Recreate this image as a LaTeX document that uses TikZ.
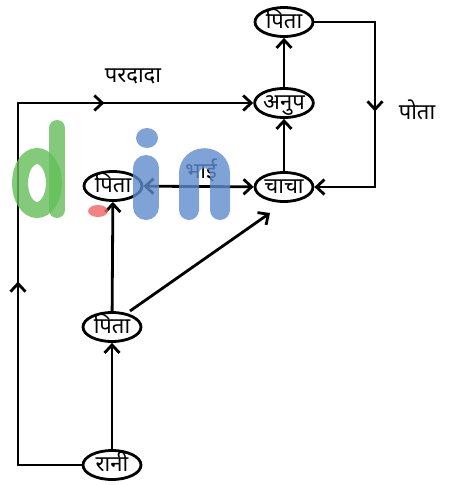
\documentclass[tikz,border=0pt]{standalone}
\usepackage{fontspec}
\newfontfamily\dev[Script=Devanagari]{Noto Sans}
\usetikzlibrary{arrows.meta,decorations.markings,shapes.geometric}
\definecolor{wmgreen}{RGB}{100,190,90}
\definecolor{wmred}{RGB}{240,100,100}
\definecolor{wmblue}{RGB}{95,140,205}
\begin{document}
\begin{tikzpicture}[x=1pt,y=-1pt,
  person/.style={ellipse,draw,line width=2.8pt,inner sep=0pt,text height=13pt,text depth=0pt,minimum width=58pt,minimum height=29pt,font=\dev\fontsize{22}{22}\selectfont},
  lbl/.style={font=\dev\fontsize{22}{22}\selectfont},
  link/.style={line width=2.8pt,line join=miter},
  tip/.style={-{Straight Barb[length=8pt,width=15pt,line width=2.8pt]}},
  dtip/.style={{Straight Barb[length=8pt,width=15pt,line width=2.8pt]}-{Straight Barb[length=8pt,width=15pt,line width=2.8pt]}},
  wm/.style={opacity=0.8,line cap=round}
]
\useasboundingbox (0,0) rectangle (450,485);
% persons
\node[person] (ptop) at (284,22) {पिता};
\node[person] (anup) at (284,103) {अनुप};
\node[person] (chacha) at (284,187) {चाचा};
\node[person] (pleft) at (113,186) {पिता};
\node[person] (pmid) at (112,327) {पिता};
\node[person] (rani) at (112,465) {रानी};
\coordinate (bl) at (18,465);
\coordinate (tl) at (18,103);
\coordinate (tr) at (375,22);
\coordinate (br) at (375,187);
% connectors
\draw[link,tip,postaction=decorate,decoration={markings,
   mark=at position 247pt with {\arrow{Straight Barb[length=8pt,width=15pt,line width=2.8pt]}},
   mark=at position 512pt with {\arrow{Straight Barb[length=8pt,width=15pt,line width=2.8pt]}}}]
   (rani.west) -- (bl) -- (tl) -- (anup.west);
\draw[link,tip,postaction=decorate,decoration={markings,
   mark=at position 150pt with {\arrow{Straight Barb[length=8pt,width=15pt,line width=2.8pt]}}}]
   (ptop.east) -- (tr) -- (br) -- (chacha.east);
\draw[link,tip] (anup) -- (ptop);
\draw[link,tip] (chacha) -- (anup);
\draw[link,dtip] (pleft) -- (chacha);
\draw[link,tip] (pmid) -- (pleft);
\draw[link,tip] ([xshift=18pt,yshift=16pt]pmid.center) -- ([xshift=-14pt,yshift=-26pt]chacha.center);
\draw[link,tip] (rani) -- (pmid);
% labels
\node[lbl] (lpardada) at (133,76) {परदादा};
\node[lbl] (lpota) at (417,110) {पोता};
\node[lbl] (lbhai) at (201,170) {भाई};
% watermark (on top, semi-transparent)
\begin{scope}[wm]
  \draw[wmgreen,line width=16pt] (57,128) -- (57,210);
  \draw[wmgreen,line width=16pt] (37,183) ellipse (17 and 27);
  \fill[wmred] (98,211) ellipse (10 and 6);
  \fill[wmblue] (147,138) ellipse (11 and 10);
  \draw[wmblue,line width=26pt] (146,168) -- (146,207);
  \draw[wmblue,line width=20pt] (189,210) -- (189,174) .. controls (189,153) and (220,153) .. (220,174) -- (220,210);
\end{scope}
\end{tikzpicture}
\end{document}
